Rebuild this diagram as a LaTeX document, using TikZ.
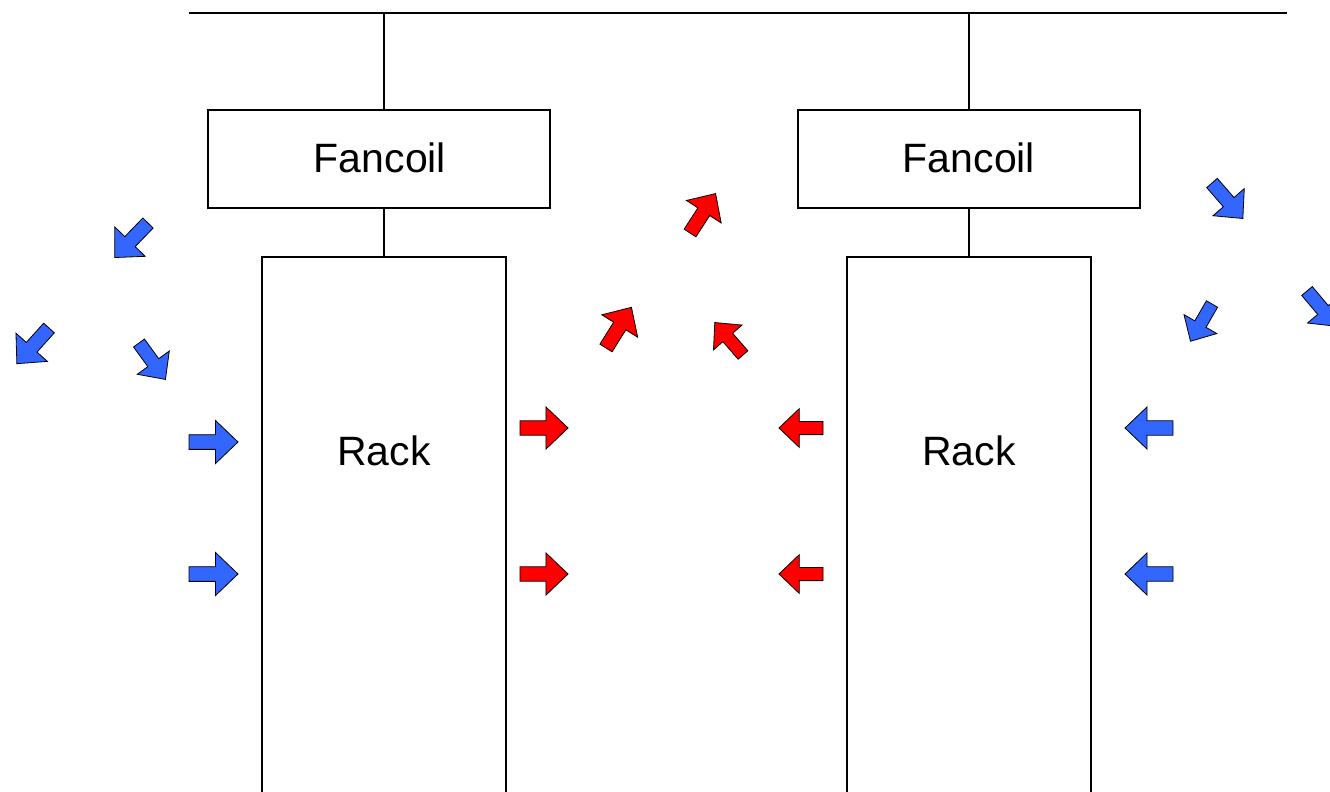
\documentclass[tikz,border=0pt]{standalone}
\usepackage{fontspec}
\setmainfont{Liberation Sans}
\definecolor{coolair}{RGB}{51,102,255}
\definecolor{hotair}{RGB}{255,0,0}
\tikzset{
  pipe/.style={line width=1.6pt},
  unit/.style={draw, line width=1.6pt, inner sep=0pt, outer sep=0pt},
  caption/.style={font=\fontsize{41}{48}\selectfont, inner sep=0pt},
  flow/.style={draw=black, line width=0.8pt, line join=miter},
}
% block arrow: colour, tail x, tail y, direction (deg), length
\newcommand\airflow[5]{%
  \begin{scope}[shift={(#2,#3)}, rotate=#4]
    \filldraw[flow, fill=#1]
      (0,{0.15*#5}) -- ({0.54*#5},{0.15*#5}) -- ({0.54*#5},{0.44*#5}) -- (#5,0)
      -- ({0.54*#5},{-0.44*#5}) -- ({0.54*#5},{-0.15*#5}) -- (0,{-0.15*#5}) -- cycle;
  \end{scope}}
\begin{document}
\begin{tikzpicture}[x=1pt, y=-1pt]
  \useasboundingbox (0,0) rectangle (1330,792);
  \clip (0,0) rectangle (1330,792);

  % supply bus
  \coordinate (busL) at (189,13);
  \coordinate (busR) at (1287,13);
  \coordinate (tap1) at (384,13);
  \coordinate (tap2) at (969,13);
  \draw[pipe] (busL) -- (busR);

  % fancoil units
  \node[unit, minimum width=342pt, minimum height=98pt] (fc1) at (379,159) {};
  \node[unit, minimum width=342pt, minimum height=98pt] (fc2) at (969,159) {};
  \node[caption] (fc1t) at (380,158) {Fancoil};
  \node[caption] (fc2t) at (969,158) {Fancoil};

  % racks
  \node[unit, anchor=north, minimum width=244pt, minimum height=600pt] (rack1) at (384,257) {};
  \node[unit, anchor=north, minimum width=244pt, minimum height=600pt] (rack2) at (969,257) {};
  \node[caption] (rack1t) at (384,451) {Rack};
  \node[caption] (rack2t) at (969,451) {Rack};

  % piping
  \draw[pipe] (tap1) -- (tap1 |- fc1.north);
  \draw[pipe] (tap2) -- (tap2 |- fc2.north);
  \draw[pipe] (rack1.north |- fc1.south) -- (rack1.north);
  \draw[pipe] (rack2.north |- fc2.south) -- (rack2.north);

  % cold air
  \airflow{coolair}{148}{223}{226}{48}
  \airflow{coolair}{49}{328}{228}{48}
  \airflow{coolair}{139}{343}{-54}{45}
  \airflow{coolair}{189}{442}{0}{49}
  \airflow{coolair}{189}{574}{0}{49}
  \airflow{coolair}{1212}{183}{-49}{47}
  \airflow{coolair}{1212}{304}{240}{43}
  \airflow{coolair}{1307}{291}{-50}{46}
  \airflow{coolair}{1173}{428}{180}{48}
  \airflow{coolair}{1173}{574}{180}{48}

  % hot air
  \airflow{hotair}{520}{428}{0}{48}
  \airflow{hotair}{520}{574}{0}{48}
  \airflow{hotair}{823}{428}{180}{44}
  \airflow{hotair}{823}{574}{180}{44}
  \airflow{hotair}{690}{233}{57}{47}
  \airflow{hotair}{606}{348}{58}{48}
  \airflow{hotair}{743}{355}{131}{43}
\end{tikzpicture}
\end{document}
